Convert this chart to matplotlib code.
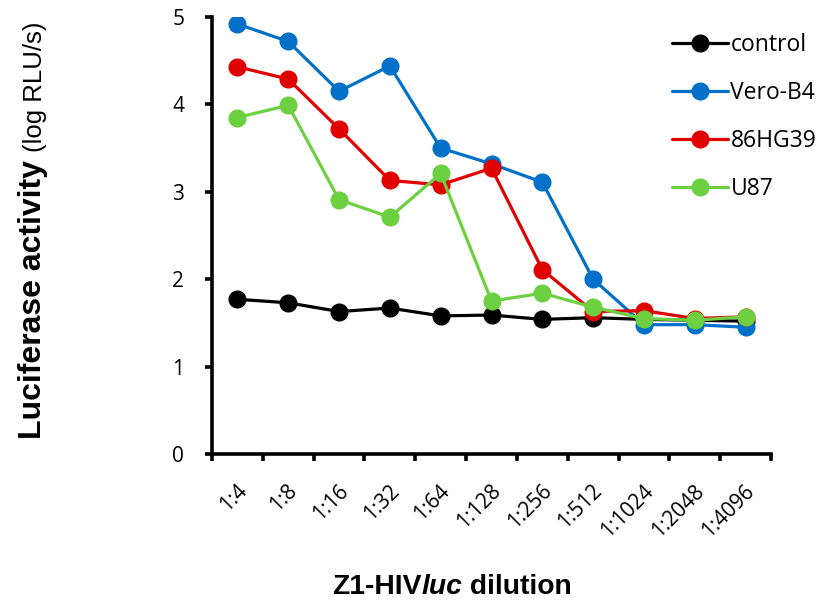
import matplotlib
matplotlib.use("Agg")
import matplotlib.pyplot as plt
import matplotlib.transforms as mtransforms
from matplotlib.ticker import FixedLocator, NullFormatter

categories = ["1:4", "1:8", "1:16", "1:32", "1:64", "1:128", "1:256", "1:512", "1:1024", "1:2048", "1:4096"]
control = [1.77, 1.73, 1.63, 1.67, 1.58, 1.59, 1.54, 1.56, 1.54, 1.53, 1.52]
vero_b4 = [4.92, 4.72, 4.15, 4.44, 3.50, 3.32, 3.11, 2.00, 1.48, 1.48, 1.45]
hg39 = [4.43, 4.29, 3.72, 3.13, 3.08, 3.27, 2.11, 1.63, 1.64, 1.55, 1.57]
u87 = [3.85, 3.99, 2.91, 2.71, 3.21, 1.75, 1.84, 1.68, 1.55, 1.53, 1.57]
series_names = ["control", "Vero-B4", "86HG39", "U87"]
colors = ["#000000", "#0070C8", "#E00000", "#6CD040"]

W, H = 824, 605
fig = plt.figure(figsize=(W / 100, H / 100), dpi=100)
ax = fig.add_axes([212 / W, 1 - 454 / H, (771 - 212) / W, (454 - 17) / H])

x = list(range(len(categories)))
for vals, name, c in zip([control, vero_b4, hg39, u87], series_names, colors):
    ax.plot(x, vals, color=c, lw=2.3, marker="o", ms=12, label=name,
            solid_capstyle="round")

ax.set_xlim(-0.5, len(categories) - 0.5)
ax.set_ylim(0, 5)
for s in ["top", "right"]:
    ax.spines[s].set_visible(False)
for s in ["left", "bottom"]:
    ax.spines[s].set_linewidth(2.6)

tick_font = "Open Sans"
ax.set_yticks([0, 1, 2, 3, 4, 5])
ax.tick_params(axis="y", direction="out", length=5, width=2.6, pad=15, labelsize=15)
for t in ax.get_yticklabels():
    t.set_fontfamily(tick_font)

ax.set_xticks(x)
ax.set_xticklabels(categories, rotation=45, ha="right", va="top", rotation_mode="anchor",
                   fontsize=15, fontfamily=tick_font)
ax.tick_params(axis="x", which="major", length=0, pad=19)
ax.xaxis.set_minor_locator(FixedLocator([i - 0.5 for i in range(len(categories) + 1)]))
ax.xaxis.set_minor_formatter(NullFormatter())
ax.tick_params(axis="x", which="minor", direction="out", length=5, width=2.6)
offset = mtransforms.ScaledTranslation(-1 / 72, 0, fig.dpi_scale_trans)
for t in ax.get_xticklabels():
    t.set_transform(t.get_transform() + offset)

leg = ax.legend(loc="upper left", bbox_to_anchor=(672 / W, 1 - 33 / H), bbox_transform=fig.transFigure,
                frameon=False, prop={"family": tick_font, "size": 16.5},
                handlelength=2.45, handletextpad=0.1, labelspacing=1.05,
                borderpad=0, borderaxespad=0)

fig.canvas.draw()
renderer = fig.canvas.get_renderer()

# x label built from pieces (italic "luc")
parts = [("Z1-HIV", "normal"), ("luc", "italic"), (" dilution", "normal")]
texts = []
for s, style in parts:
    t = fig.text(0, 1 - 587 / H, s, fontsize=20.3, fontweight="bold", style=style,
                 fontfamily="Liberation Sans", va="center", ha="left")
    texts.append(t)
fig.canvas.draw()
widths = [t.get_window_extent(renderer).width for t in texts]
total = sum(widths)
xstart = 452 - total / 2
for t, w in zip(texts, widths):
    t.set_x(xstart / W)
    xstart += w

# y label: bold main part plus smaller unit part
t1 = fig.text(33 / W, 0, "Luciferase activity", fontsize=23, fontweight="bold",
              fontfamily="Liberation Sans", rotation=90, ha="center", va="bottom")
t2 = fig.text(35 / W, 0, "(log RLU/s)", fontsize=18.5,
              fontfamily="Liberation Sans", rotation=90, ha="center", va="bottom")
fig.canvas.draw()
h1 = t1.get_window_extent(renderer).height
h2 = t2.get_window_extent(renderer).height
gap = 8
total = h1 + gap + h2
ystart = (H - 230) - total / 2
t1.set_y(ystart / H)
t2.set_y((ystart + h1 + gap) / H)

fig.savefig("out.png", dpi=100)
